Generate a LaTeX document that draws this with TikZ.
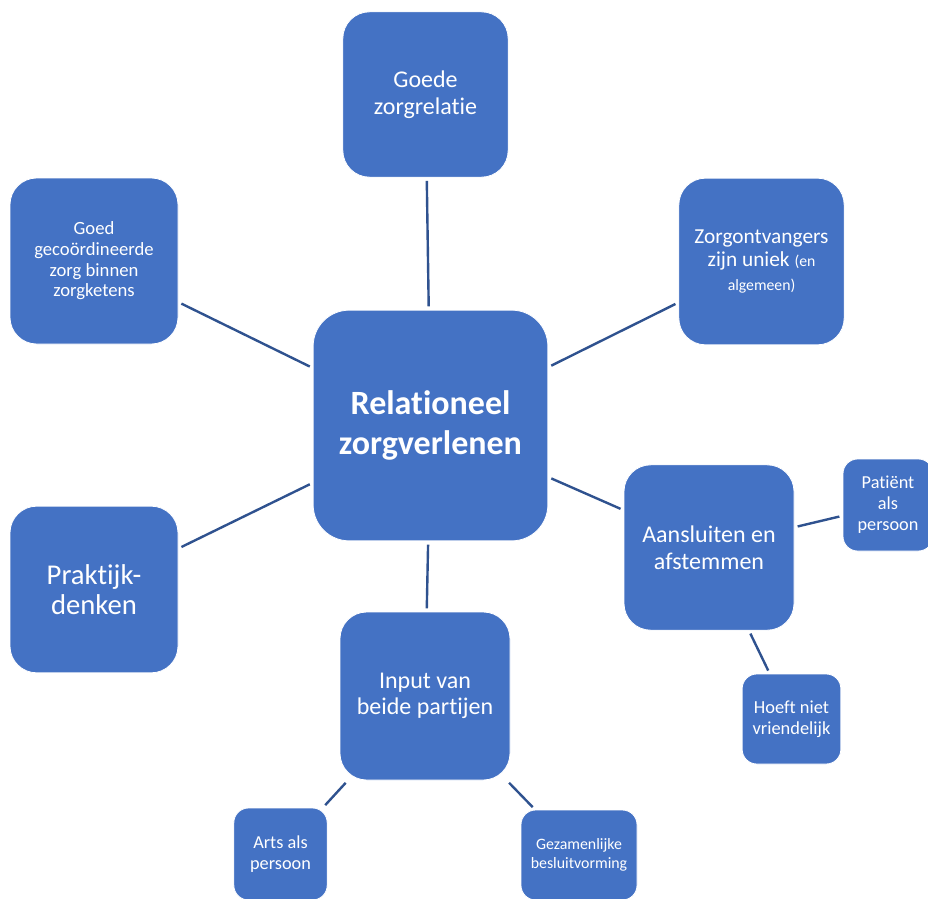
\documentclass[tikz,border=0pt]{standalone}
\usepackage{fontspec}
\setmainfont{Carlito}[Ligatures={NoCommon,NoRequired,NoContextual}, Contextuals=NoAlternate]
\definecolor{box-blue}{HTML}{4472C4}
\definecolor{link-blue}{HTML}{2F528F}
\tikzset{
    rounded-box/.style = {draw=white, fill=box-blue, text=white, line width=0.6pt, rectangle, rounded corners=20pt, align=center, inner sep=2pt},
    small-box/.style = {rounded-box, rounded corners=11pt},
    link/.style = {draw=link-blue, line width=1.8pt, shorten >=2.5pt, shorten <=2.5pt},
}

\begin{document}
\begin{tikzpicture}[x=0.75pt, y=-0.75pt]
\useasboundingbox (0,0) rectangle (928,899);
% centre
\node[rounded-box, rounded corners=27pt, minimum width=176pt, minimum height=173pt, font=\bfseries\fontsize{25.5}{30}\selectfont] (relationeel) at (430.5,425.5) {Relationeel\\zorgverlenen};
% ring of themes
\node[rounded-box, minimum width=124pt, minimum height=124pt, font=\fontsize{18}{20}\selectfont] (zorgrelatie) at (425.5,94.5) {Goede\\zorgrelatie};
\node[rounded-box, minimum width=126pt, minimum height=124.5pt, font=\fontsize{14}{15.5}\selectfont] (zorgketens) at (94,261) {Goed\\gecoördineerde\\zorg binnen\\zorgketens};
\node[rounded-box, minimum width=124pt, minimum height=125pt, font=\fontsize{16}{17.5}\selectfont] (uniek) at (761.5,261.5) {Zorgontvangers\\zijn uniek {\fontsize{11.8}{15}\selectfont(en}\\{\fontsize{11.8}{15}\selectfont algemeen)}};
\node[rounded-box, minimum width=126pt, minimum height=125pt, font=\fontsize{21.5}{23}\selectfont] (praktijk) at (94,589.5) {Praktijk-\\denken};
\node[rounded-box, minimum width=127.5pt, minimum height=124pt, font=\fontsize{18}{20}\selectfont] (aansluiten) at (709,547.5) {Aansluiten en\\afstemmen};
\node[rounded-box, minimum width=127.5pt, minimum height=126pt, font=\fontsize{18}{20}\selectfont] (input) at (425,696) {Input van\\beide partijen};
% details
\node[small-box, minimum width=67.5pt, minimum height=69pt, font=\fontsize{13.7}{15.7}\selectfont] (patient) at (888,505) {Patiënt\\als\\persoon};
\node[small-box, minimum width=74pt, minimum height=67.5pt, font=\fontsize{13.8}{15.7}\selectfont] (vriendelijk) at (791.5,719) {Hoeft niet\\vriendelijk};
\node[small-box, minimum width=70pt, minimum height=69pt, font=\fontsize{13.7}{15.7}\selectfont] (arts) at (280.5,854) {Arts als\\persoon};
\node[small-box, minimum width=87pt, minimum height=67.5pt, font=\fontsize{11.9}{14}\selectfont] (besluit) at (579,855) {Gezamenlijke\\besluitvorming};
% connectors
\foreach \a/\b in {relationeel/zorgrelatie, relationeel/zorgketens, relationeel/uniek, relationeel/praktijk, relationeel/aansluiten, relationeel/input, aansluiten/patient, aansluiten/vriendelijk, input/arts, input/besluit}
    \draw[link] (\a) -- (\b);
\end{tikzpicture}
\end{document}
